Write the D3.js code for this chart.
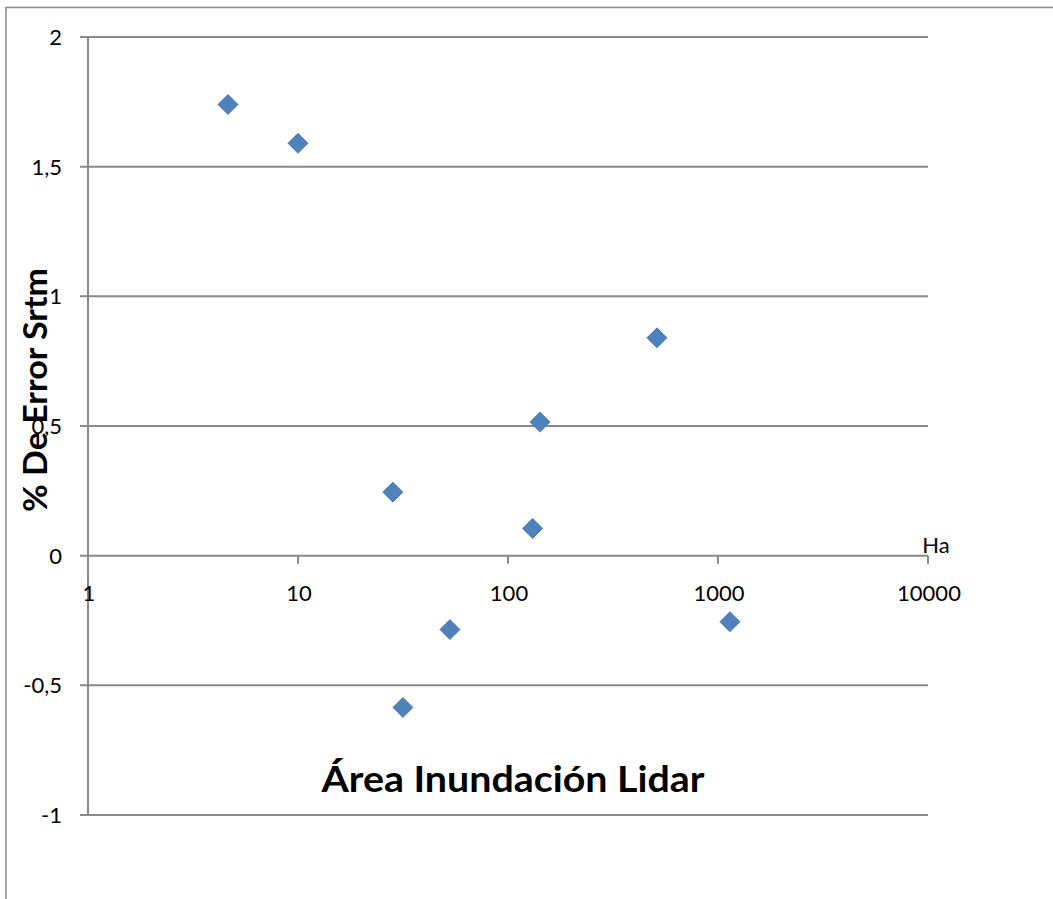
<!DOCTYPE html>
<html><head><meta charset="utf-8">
<script src="https://cdn.jsdelivr.net/npm/d3@7"></script>
<style>body{margin:0;background:#fff}svg{display:block}</style>
</head><body>
<script>
const areaHa = [4.64, 10, 28.3, 31.6, 52.9, 131, 142, 512, 1140];
const errorPct = [1.74, 1.59, 0.245, -0.585, -0.285, 0.105, 0.515, 0.84, -0.255];
const xTicks = [1, 10, 100, 1000, 10000];
const yTicks = [-1, -0.5, 0, 0.5, 1, 1.5, 2];
const xTitle = "Área Inundación  Lidar";
const yTitle = "% De Error Srtm";
const unitLabel = "Ha";

const W = 1053, H = 899;
const svg = d3.select("body").append("svg").attr("width", W).attr("height", H);
const font = "Lato, 'Open Sans', sans-serif";
const grey = "#898989";

// outer frame
svg.append("path").attr("d", `M6,${H} L6,7.5 L${W},7.5`).attr("fill","none").attr("stroke", grey).attr("stroke-width",1.5);

const x = d3.scaleLog().domain([1, 10000]).range([88, 928]);
const y = d3.scaleLinear().domain([-1, 2]).range([815, 37]);

// gridlines
svg.append("g").selectAll("line").data(yTicks).join("line")
  .attr("x1", 80).attr("x2", x(10000))
  .attr("y1", d => y(d)).attr("y2", d => y(d))
  .attr("stroke", grey).attr("stroke-width", 2);

// y axis line
svg.append("line").attr("x1", x(1)).attr("x2", x(1)).attr("y1", y(2)).attr("y2", y(-1))
  .attr("stroke", grey).attr("stroke-width", 2);

// x axis ticks (axis at y=0)
svg.append("g").selectAll("line").data(xTicks).join("line")
  .attr("x1", d => x(d)).attr("x2", d => x(d))
  .attr("y1", y(0)).attr("y2", y(0) + 8)
  .attr("stroke", grey).attr("stroke-width", 2);

// y tick labels
const fmt = d => String(d).replace(".", ",");
svg.append("g").selectAll("text").data(yTicks).join("text")
  .attr("x", 62).attr("y", d => y(d) + 8)
  .attr("text-anchor", "end").attr("font-family", font).attr("font-size", 22).attr("fill", "#000")
  .text(fmt);

// x tick labels
svg.append("g").selectAll("text").data(xTicks).join("text")
  .attr("x", d => x(d) + 1).attr("y", y(0) + 45)
  .attr("text-anchor", "middle").attr("font-family", font).attr("font-size", 22).attr("fill", "#000")
  .text(d => String(d));

// unit label
svg.append("text").attr("x", 936).attr("y", y(0) - 3).attr("text-anchor", "middle")
  .attr("font-family", font).attr("font-size", 22).text(unitLabel);

// points
const data = areaHa.map((a, i) => ({a, e: errorPct[i]}));
svg.append("g").selectAll("path").data(data).join("path")
  .attr("transform", d => `translate(${x(d.a)},${y(d.e)})`)
  .attr("d", "M0,-10 L10,0 L0,10 L-10,0 Z")
  .attr("fill", "#4F81BD").attr("stroke", "#3f6fa8").attr("stroke-width", 0.8);

// x title
svg.append("text").attr("x", 513).attr("y", 792).attr("text-anchor", "middle")
  .attr("font-family", font).attr("font-weight", "bold").attr("font-size", 37)
  .attr("textLength", 383).attr("lengthAdjust", "spacingAndGlyphs").text(xTitle);

// y title
svg.append("text").attr("transform", "translate(47,390) rotate(-90)").attr("text-anchor", "middle")
  .attr("font-family", font).attr("font-weight", "bold").attr("font-size", 32)
  .attr("textLength", 244).attr("lengthAdjust", "spacingAndGlyphs").text(yTitle);
</script>
</body></html>
